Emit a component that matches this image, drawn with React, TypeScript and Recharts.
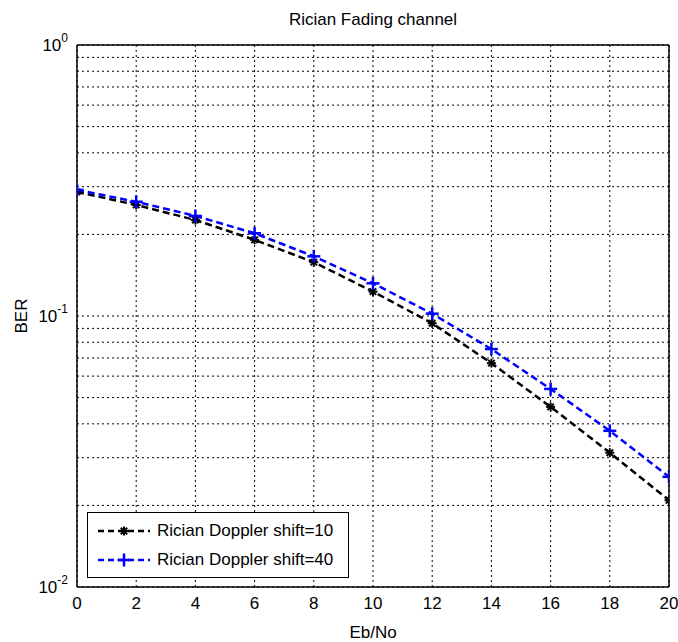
import React from 'react';
import {
  LineChart,
  Line,
  XAxis,
  YAxis,
  CartesianGrid,
  ReferenceLine,
  Label
} from 'recharts';

// Eb/No values (dB)
const EBNO = [0, 2, 4, 6, 8, 10, 12, 14, 16, 18, 20];
// BER, Rician Doppler shift = 10
const BER_10 = [0.287, 0.257, 0.226, 0.191, 0.158, 0.123, 0.094, 0.067, 0.0462, 0.0313, 0.0209];
// BER, Rician Doppler shift = 40
const BER_40 = [0.292, 0.264, 0.234, 0.202, 0.166, 0.132, 0.102, 0.0755, 0.0538, 0.0377, 0.0255];

const X_TICKS = [0, 2, 4, 6, 8, 10, 12, 14, 16, 18, 20];
const Y_TICKS = [
  0.01, 0.02, 0.03, 0.04, 0.05, 0.06, 0.07, 0.08, 0.09,
  0.1, 0.2, 0.3, 0.4, 0.5, 0.6, 0.7, 0.8, 0.9, 1
];
const Y_DECADES = [0.01, 0.1, 1];

const SERIES = [
  { key: 'ber10', name: 'Rician Doppler shift=10', color: '#000000', marker: 'star' },
  { key: 'ber40', name: 'Rician Doppler shift=40', color: '#0000ff', marker: 'plus' }
];

const FONT = '"Liberation Sans", Arial, Helvetica, sans-serif';

const data = EBNO.map((x, i) => ({ x, ber10: BER_10[i], ber40: BER_40[i] }));

// MATLAB style '*' marker
const StarDot = (props: any) => {
  const { cx, cy, stroke } = props;
  if (cx == null || cy == null) return null;
  const r = 4.5;
  const d = r * 0.72;
  return (
    <g stroke={stroke} strokeWidth={2}>
      <line x1={cx - r} y1={cy} x2={cx + r} y2={cy} />
      <line x1={cx} y1={cy - r} x2={cx} y2={cy + r} />
      <line x1={cx - d} y1={cy - d} x2={cx + d} y2={cy + d} />
      <line x1={cx - d} y1={cy + d} x2={cx + d} y2={cy - d} />
    </g>
  );
};

// MATLAB style '+' marker
const PlusDot = (props: any) => {
  const { cx, cy, stroke } = props;
  if (cx == null || cy == null) return null;
  const r = 6.5;
  return (
    <g stroke={stroke} strokeWidth={2.5}>
      <line x1={cx - r} y1={cy} x2={cx + r} y2={cy} />
      <line x1={cx} y1={cy - r} x2={cx} y2={cy + r} />
    </g>
  );
};

const YTick = (props: any) => {
  const { x, y, payload } = props;
  const v = payload.value;
  if (!Y_DECADES.some(d => Math.abs(d - v) < 1e-9)) return null;
  const exp = Math.round(Math.log10(v));
  return (
    <text x={x - 1} y={y} dy={6} textAnchor="end" fontFamily={FONT} fontSize={17} fill="#000">
      <tspan>10</tspan>
      <tspan dy={-9} fontSize={12}>{exp}</tspan>
    </text>
  );
};

const LegendBox = () => (
  <div
    style={{
      position: 'absolute',
      left: 87,
      top: 512,
      border: '1px solid #000',
      background: '#fff',
      width: 262,
      height: 66,
      boxSizing: 'border-box',
      fontFamily: FONT,
      fontSize: 17,
      paddingTop: 3
    }}
  >
    {SERIES.map(s => (
      <div key={s.key} style={{ display: 'flex', alignItems: 'center', height: 29 }}>
        <svg width={70} height={20} style={{ marginLeft: 4 }}>
          <line x1={6} y1={10} x2={58} y2={10} stroke={s.color} strokeWidth={2.5} strokeDasharray="6 4" />
          {s.marker === 'star'
            ? <StarDot cx={32} cy={10} stroke={s.color} />
            : <PlusDot cx={32} cy={10} stroke={s.color} />}
        </svg>
        <span style={{ color: '#000', marginLeft: -5 }}>{s.name}</span>
      </div>
    ))}
  </div>
);

export default function App() {
  return (
    <div
      style={{
        position: 'absolute',
        left: 0,
        top: 0,
        width: 678,
        height: 642,
        overflow: 'hidden',
        background: '#fff'
      }}
    >
      <div
        style={{
          position: 'absolute',
          left: 77,
          width: 592,
          top: 10,
          textAlign: 'center',
          fontFamily: FONT,
          fontSize: 17,
          color: '#000'
        }}
      >
        Rician Fading channel
      </div>
      <LineChart
        width={678}
        height={642}
        data={data}
        margin={{ top: 45, right: 9, bottom: 0, left: 0 }}
        style={{ overflow: 'visible' }}
      >
        <CartesianGrid stroke="#000" strokeWidth={1} strokeDasharray="2 3" />
        <XAxis
          dataKey="x"
          type="number"
          domain={[0, 20]}
          ticks={X_TICKS}
          height={55}
          stroke="#000"
          strokeWidth={1.5}
          tickLine={false}
          tickMargin={4}
          tick={{ fill: '#000', fontFamily: FONT, fontSize: 17 }}
          allowDataOverflow
        >
          <Label
            content={(p: any) => (
              <text
                x={p.viewBox.x + p.viewBox.width / 2}
                y={p.viewBox.y + 51}
                textAnchor="middle"
                fontFamily={FONT}
                fontSize={17}
                fill="#000"
              >
                Eb/No
              </text>
            )}
          />
        </XAxis>
        <YAxis
          scale="log"
          type="number"
          domain={[0.01, 1]}
          ticks={Y_TICKS}
          interval={0}
          width={77}
          stroke="#000"
          strokeWidth={1.5}
          tickLine={false}
          tick={<YTick />}
          allowDataOverflow
        >
          <Label
            content={(p: any) => {
              const cx = 21;
              const cy = p.viewBox.y + p.viewBox.height / 2;
              return (
                <text
                  x={cx}
                  y={cy}
                  transform={`rotate(-90, ${cx}, ${cy})`}
                  textAnchor="middle"
                  dominantBaseline="central"
                  fontFamily={FONT}
                  fontSize={17}
                  fill="#000"
                >
                  BER
                </text>
              );
            }}
          />
        </YAxis>
        {/* box frame: top and right edges */}
        <ReferenceLine y={1} stroke="#000" strokeWidth={1.5} />
        <ReferenceLine x={20} stroke="#000" strokeWidth={1.5} />
        {SERIES.map(s => (
          <Line
            key={s.key}
            dataKey={s.key}
            name={s.name}
            type="linear"
            stroke={s.color}
            strokeWidth={2.5}
            strokeDasharray="7 4"
            dot={s.marker === 'star' ? <StarDot /> : <PlusDot />}
            activeDot={false}
            isAnimationActive={false}
          />
        ))}
      </LineChart>
      <LegendBox />
    </div>
  );
}
